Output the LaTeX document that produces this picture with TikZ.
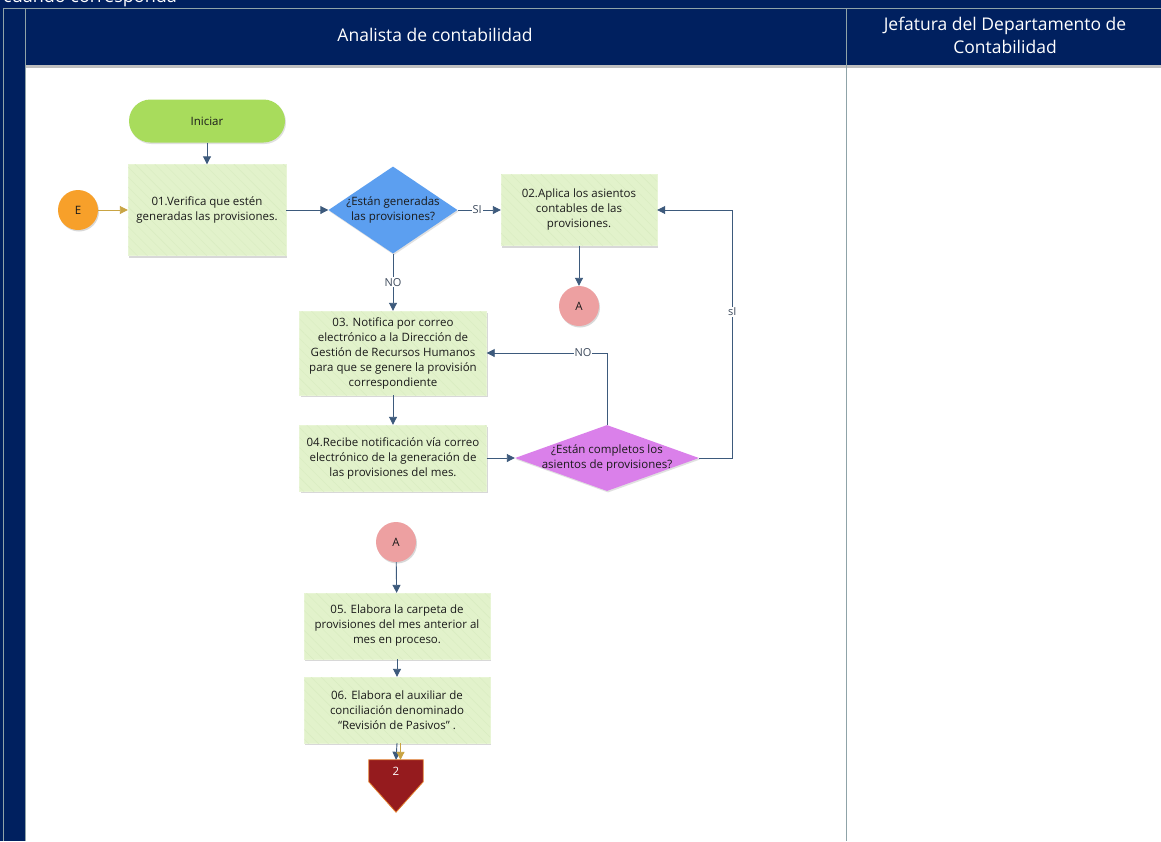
\documentclass[tikz,border=0pt]{standalone}
\usepackage{fontspec}
\setmainfont{Open Sans}
\usetikzlibrary{shapes.geometric,arrows.meta,patterns.meta,shadows}
\definecolor{navy}{HTML}{00205F}
\definecolor{laneline}{HTML}{8FA3A8}
\definecolor{boxfill}{HTML}{E2F2CB}
\definecolor{hatch}{HTML}{D8ECC0}
\definecolor{startfill}{HTML}{A8DC5C}
\definecolor{orangec}{HTML}{F7A02A}
\definecolor{pinkc}{HTML}{EDA0A1}
\definecolor{bluedia}{HTML}{5C9FF0}
\definecolor{violetdia}{HTML}{DA80EA}
\definecolor{offred}{HTML}{951B1E}
\definecolor{offedge}{HTML}{E07B2A}
\definecolor{arrowc}{HTML}{3D5A7C}
\definecolor{goldc}{HTML}{C9A443}
\definecolor{txt}{HTML}{1A1A1A}
\definecolor{lbl}{HTML}{3D4A5C}
\tikzset{
  boxtext/.style={font=\fontsize{11.5}{15}\selectfont, text=txt, align=center},
  procbox/.style={boxtext, rectangle, fill=boxfill, draw=boxfill!80!white,
    inner sep=2pt,
    postaction={pattern={Lines[angle=-45,distance=7pt,line width=0.4pt]}, pattern color=hatch},
    drop shadow={shadow xshift=1pt, shadow yshift=-2pt, opacity=0.25, fill=black!60}},
  circ/.style={circle, minimum size=40pt, inner sep=0pt, boxtext,
    drop shadow={shadow xshift=1pt, shadow yshift=-1.5pt, opacity=0.25, fill=black!60}},
  dia/.style={diamond, inner sep=0pt,
    drop shadow={shadow xshift=1pt, shadow yshift=-1.5pt, opacity=0.2, fill=black!60}},
  flow/.style={draw=arrowc, line width=0.9pt, -{Triangle[length=8pt,width=8pt]}},
  goldflow/.style={draw=goldc, line width=0.9pt, -{Triangle[length=8pt,width=8pt]}},
  elabel/.style={font=\fontsize{11}{13}\selectfont, text=lbl, fill=white, inner sep=1pt},
  headtext/.style={font=\fontsize{17.5}{23}\selectfont, text=white, align=center}
}
\begin{document}
\begin{tikzpicture}[x=1pt,y=-1pt]
\useasboundingbox (0,0) rectangle (1161,841);
\clip (0,0) rectangle (1161,841);
% background and header
\fill[navy] (0,0) rectangle (1161,841);
\fill[white] (25,65) rectangle (1161,841);
\fill[black!25] (25,65) rectangle (1161,67.5);
\draw[laneline, line width=0.6pt] (3,8) -- (1161,8);
\draw[laneline, line width=0.6pt] (3,8) -- (3,841);
\draw[laneline, line width=0.6pt] (25,8) -- (25,841);
\draw[laneline, line width=0.8pt] (846,8) -- (846,841);
\node[anchor=base west, text=white, font=\fontsize{18}{20}\selectfont, inner sep=0pt] (cap) at (3,2.5) {cuando corresponda};
\node[headtext] (h1) at (435,35) {Analista de contabilidad};
\node[headtext] (h2) at (1005,35) {Jefatura del Departamento de\\Contabilidad};

% nodes
\node[boxtext, rounded corners=21.5pt, fill=startfill, minimum width=156pt, minimum height=43pt,
  drop shadow={shadow xshift=1pt, shadow yshift=-1.5pt, opacity=0.2, fill=black!60}] (ini) at (207,121) {Iniciar};
\node[procbox, minimum width=158pt, minimum height=91pt] (n01) at (207,210) {01.Verifica que estén\\generadas las provisiones.};
\node[circ, fill=orangec] (E) at (78,210) {E};
\node[dia, fill=bluedia, minimum width=129pt, minimum height=87pt,
  label={[boxtext]center:{¿Están generadas\\las provisiones?}}] (d1) at (393,210) {};
\node[procbox, minimum width=156pt, minimum height=71pt] (n02) at (579,210) {02.Aplica los asientos\\contables de las\\provisiones.};
\node[circ, fill=pinkc] (A1) at (579,306) {A};
\node[procbox, minimum width=187pt, minimum height=84pt] (n03) at (393,353) {03. Notifica por correo\\electrónico a la Dirección de\\Gestión de Recursos Humanos\\para que se genere la provisión\\correspondiente};
\node[procbox, minimum width=187pt, minimum height=66pt] (n04) at (393,458) {04.Recibe notificación vía correo\\electrónico de la generación de\\las provisiones del mes.};
\node[dia, fill=violetdia, minimum width=184pt, minimum height=66pt,
  label={[boxtext]center:{¿Están completos los\\asientos de provisiones?}}] (d2) at (607,458) {};
\node[circ, fill=pinkc] (A2) at (396,542) {A};
\node[procbox, minimum width=186pt, minimum height=66pt] (n05) at (397,626) {05. Elabora la carpeta de\\provisiones del mes anterior al\\mes en proceso.};
\node[procbox, minimum width=186pt, minimum height=66pt] (n06) at (397,710) {06. Elabora el auxiliar de\\conciliación denominado\\“Revisión de Pasivos” .};
\node[minimum width=54pt, minimum height=52pt, inner sep=0pt] (off) at (396,786) {};
\fill[offred, draw=offedge, line width=0.8pt] (off.north west) -- (off.north east) -- ([yshift=-22pt]off.north east) -- (off.south) -- ([yshift=-22pt]off.north west) -- cycle;
\node[font=\fontsize{11.5}{13}\selectfont, text=white] (offt) at (396,771) {2};

% connectors
\draw[flow] (ini) -- (n01);
\draw[goldflow] (E) -- (n01);
\draw[flow] (n01) -- (d1);
\draw[flow] (d1) -- node[elabel, pos=0.45] {SI} (n02);
\draw[flow] (d1) -- node[elabel, pos=0.5] {NO} (n03);
\draw[flow] (n02) -- (A1);
\draw[flow] (n03) -- (n04);
\draw[flow] (n04) -- (d2);
\draw[flow] (d2.north) -- (d2.north |- n03.east) -- node[elabel, pos=0.2] {NO} (n03.east);
\draw[flow] (d2.east) -- ++(33,0) coordinate (c1) -- node[elabel, pos=0.59] {sI} (c1 |- n02.east) -- (n02.east);
\draw[flow] (A2) -- (n05);
\draw[flow] (n05) -- (n06);
\draw[flow] (n06.south) -- (off.north);
\draw[goldflow] ([xshift=3.5pt]n06.south) -- ([xshift=4.5pt]off.north);
\end{tikzpicture}
\end{document}
